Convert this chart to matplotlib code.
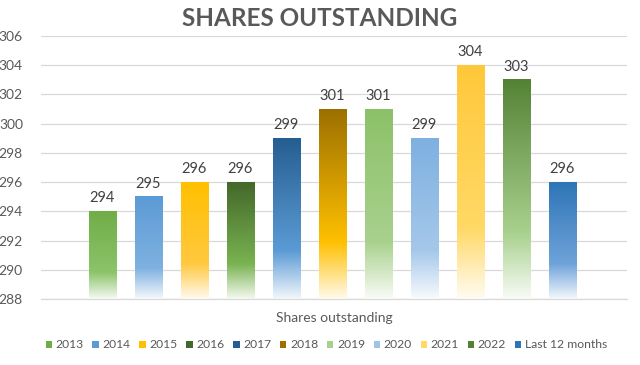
import matplotlib.pyplot as plt
import matplotlib.colors as mcolors
from matplotlib.patches import Patch
import numpy as np

plt.rcParams['font.family'] = ['Lato', 'DejaVu Sans']

series = ['2013', '2014', '2015', '2016', '2017', '2018', '2019', '2020', '2021', '2022', 'Last 12 months']
values = [294, 295, 296, 296, 299, 301, 301, 299, 304, 303, 296]
top_colors = ['#70AD47', '#5B9BD5', '#FFC000', '#43682B', '#255E91', '#9C7000',
              '#8CC168', '#7EB0E0', '#FFC83A', '#548235', '#2E75B6']
low_colors = ['#8CC46A', '#7FB1E0', '#FFC940', '#79B350', '#5B9BD5', '#FFC000',
              '#A9D18E', '#A5C8EA', '#FFD966', '#A9D18E', '#6FA3DA']
legend_colors = ['#70AD47', '#5B9BD5', '#FFC000', '#43682B', '#255E91', '#9C7000',
                 '#A9D18E', '#9DC3E6', '#FFD966', '#548235', '#2E75B6']
ymin, ymax = 288, 306


def mix(c, amount):
    rgb = np.array(mcolors.to_rgb(c))
    return rgb + (1 - rgb) * amount


def gradient(top, low, n=200):
    # stops as fraction of bar height from the bottom
    stops = [(0.0, mix(low, 0.92)), (0.12, mix(low, 0.55)), (0.3, mix(low, 0.0)), (1.0, mix(top, 0.0))]
    pos = np.linspace(0, 1, n)
    img = np.zeros((n, 1, 3))
    for k in range(3):
        img[:, 0, k] = np.interp(pos, [s[0] for s in stops], [s[1][k] for s in stops])
    return img


fig = plt.figure(figsize=(6.4, 3.65), dpi=100)
ax = fig.add_axes([0.064, 0.1808, 0.916, 0.7206])

x = np.arange(len(series))
width = 0.59
bars = ax.bar(x, np.array(values) - ymin, bottom=ymin, width=width, color='none', zorder=3)
for i, b in enumerate(bars):
    img = gradient(top_colors[i], low_colors[i])
    ax.imshow(img, extent=(x[i] - width / 2, x[i] + width / 2, ymin, values[i]),
              origin='lower', aspect='auto', zorder=3, interpolation='bilinear')
    ax.text(x[i], values[i] + 0.4, str(values[i]), ha='center', va='bottom',
            fontsize=10.5, color='#404040', zorder=4)

ax.set_xlim(-1.33, 11.41)
ax.set_ylim(ymin, ymax)
ax.set_yticks(np.arange(288, 307, 2))
ax.tick_params(axis='y', length=0, labelsize=10, labelcolor='#595959', pad=13)
ax.set_xticks([])
ax.yaxis.grid(True, color='#D9D9D9', linewidth=0.9, zorder=0)
ax.set_axisbelow(True)
for side in ['top', 'right', 'left']:
    ax.spines[side].set_visible(False)
ax.spines['bottom'].set_color('#D9D9D9')
ax.spines['bottom'].set_linewidth(0.9)

fig.text(0.522, 0.13, 'Shares outstanding', ha='center', va='center', fontsize=10, color='#595959')
fig.text(0.5, 0.95, 'SHARES OUTSTANDING', ha='center', va='center', fontsize=17.5,
         fontweight='bold', color='#595959')

handles = [Patch(facecolor=c, edgecolor='none') for c in legend_colors]
fig.legend(handles, series, loc='center', bbox_to_anchor=(0.51, 0.055), ncol=11, frameon=False,
           fontsize=8.7, labelcolor='#595959', handlelength=0.55, handleheight=0.55,
           handletextpad=0.3, columnspacing=0.7)

fig.savefig('out.png', dpi=100)
